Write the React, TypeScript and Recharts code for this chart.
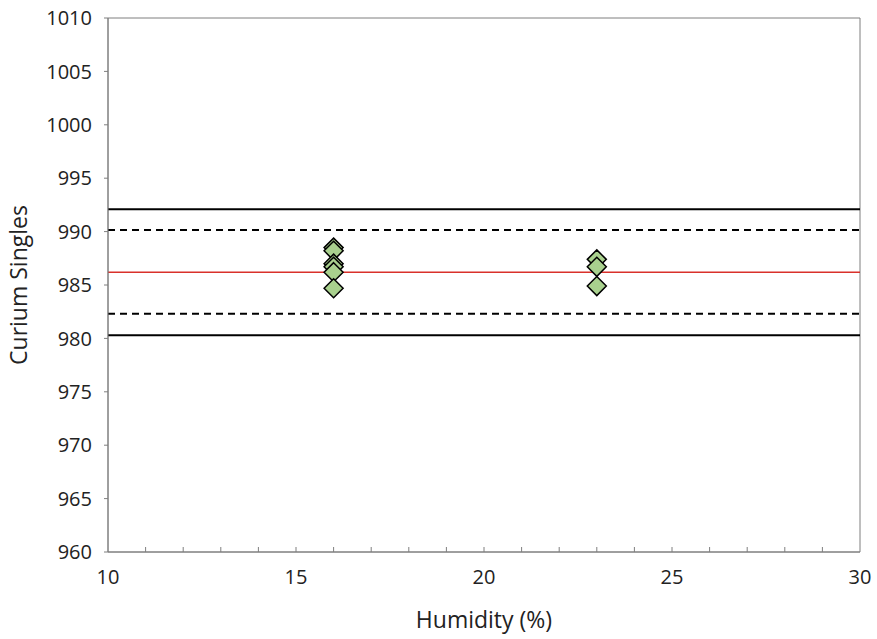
import React from 'react'
import {
  ScatterChart, Scatter, XAxis, YAxis, ReferenceLine, ReferenceArea,
} from 'recharts'

const X_TICKS = [10, 11, 12, 13, 14, 15, 16, 17, 18, 19, 20, 21, 22, 23, 24, 25, 26, 27, 28, 29, 30]
const Y_TICKS = [960, 965, 970, 975, 980, 985, 990, 995, 1000, 1005, 1010]

const HUMIDITY = [16, 16, 16, 16, 16, 16, 23, 23, 23]
const SINGLES = [988.5, 988.2, 987.0, 986.7, 986.2, 984.7, 987.4, 986.7, 984.9]

const MEAN = 986.2
const WARN_LIMITS = [982.3, 990.15]
const ACTION_LIMITS = [980.3, 992.1]

const points = HUMIDITY.map((h, i) => ({ x: h, y: SINGLES[i] }))

const FONT = '"Open Sans", "Noto Sans", sans-serif'

function Diamond(props: any) {
  const { cx, cy } = props
  const r = 9.5
  return (
    <path
      d={`M${cx},${cy - r} L${cx + r},${cy} L${cx},${cy + r} L${cx - r},${cy} Z`}
      fill="#a9d18e"
      stroke="#000"
      strokeWidth={1.5}
    />
  )
}

function XTick(props: any) {
  const { x, y, payload } = props
  const major = payload.value % 5 === 0
  return (
    <g>
      {payload.value !== 10 && payload.value !== 30 && (
        <line x1={x} x2={x} y1={y} y2={y - 5} stroke="#7f7f7f" strokeWidth={1} />
      )}
      {major && (
        <text x={x} y={y + 32} textAnchor="middle" fontSize={20} fill="#222" fontFamily={FONT}>
          {payload.value}
        </text>
      )}
    </g>
  )
}

export default function App() {
  return (
    <div style={{ position: 'absolute', left: 0, top: 0, background: '#fff' }}>
      <ScatterChart width={877} height={639} margin={{ top: 18, right: 17, left: 0, bottom: 7 }}>
        <XAxis
          type="number"
          dataKey="x"
          domain={[10, 30]}
          ticks={X_TICKS}
          interval={0}
          tickSize={0}
          tickMargin={0}
          tick={<XTick />}
          axisLine={{ stroke: '#7f7f7f', strokeWidth: 1 }}
          height={80}
          label={{ value: 'Humidity (%)', position: 'insideBottom', offset: 4, fontSize: 23, fill: '#222', fontFamily: FONT }}
        />
        <YAxis
          type="number"
          dataKey="y"
          domain={[960, 1010]}
          ticks={Y_TICKS}
          interval={0}
          width={108}
          tickSize={4}
          tickMargin={12}
          tick={{ fontSize: 20, fill: '#222', fontFamily: FONT }}
          tickLine={{ stroke: '#7f7f7f' }}
          axisLine={{ stroke: '#7f7f7f', strokeWidth: 1 }}
          label={{ value: 'Curium Singles', angle: -90, position: 'insideLeft', offset: 19, fontSize: 23, fill: '#222', fontFamily: FONT, style: { textAnchor: 'middle' } }}
        />
        <ReferenceArea x1={10} x2={30} y1={960} y2={1010} fill="none" stroke="#7f7f7f" strokeWidth={1} ifOverflow="visible" />
        {ACTION_LIMITS.map(v => (
          <ReferenceLine key={'a' + v} y={v} stroke="#000" strokeWidth={2} />
        ))}
        {WARN_LIMITS.map(v => (
          <ReferenceLine key={'w' + v} y={v} stroke="#000" strokeWidth={2} strokeDasharray="7 5" />
        ))}
        <ReferenceLine y={MEAN} stroke="#d9312b" strokeWidth={1.5} />
        <Scatter data={points} shape={<Diamond />} isAnimationActive={false} />
      </ScatterChart>
    </div>
  )
}
